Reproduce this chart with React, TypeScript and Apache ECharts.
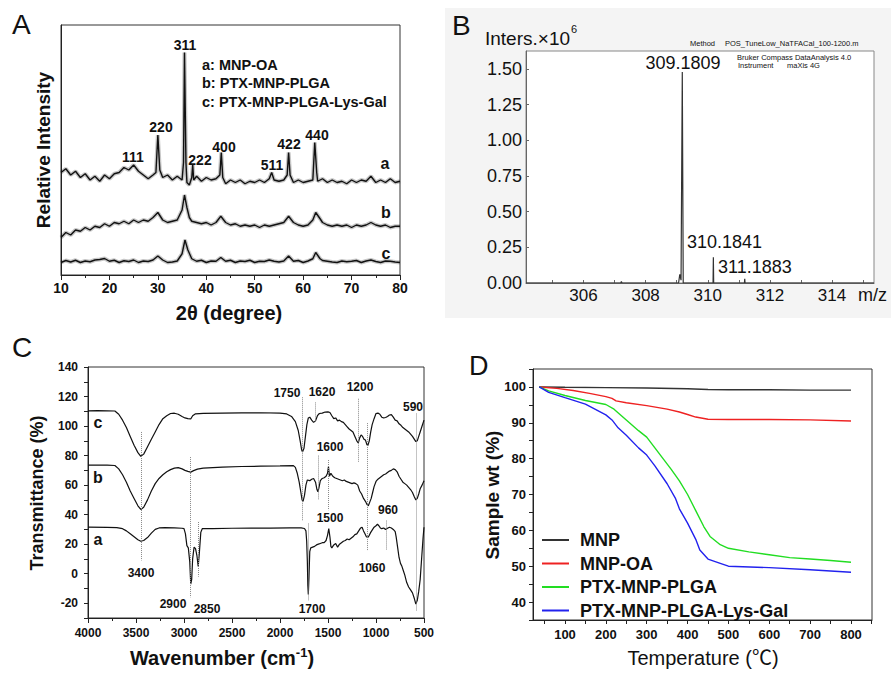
import React, { useEffect, useRef } from "react";
import * as echarts from "echarts";

const FONT = '"Liberation Sans", Arial, Helvetica, "Noto Sans CJK SC", sans-serif';

// ---------- Panel A : XRD ----------
const xrdA: number[][] = [
  [10, 41], [11, 42.5], [12, 40], [13, 41.5], [14, 39], [15, 40.5], [16, 38], [17, 39.5], [18, 37.5], [19, 40],
  [20, 38.5], [21, 40.5], [22, 41], [23, 43], [24, 42], [25, 44], [26, 41.5], [27, 40], [28, 38.5], [29, 40],
  [29.6, 41], [30, 56], [30.4, 42], [31, 39], [32, 40], [33, 38], [34, 39.5], [35, 38], [35.3, 45], [35.5, 89],
  [35.8, 45], [36, 37], [36.5, 36], [37, 39], [37.2, 44], [37.4, 38], [38, 39.5], [39, 37.5], [40, 39], [41, 38],
  [42, 38.5], [42.8, 40], [43.1, 49], [43.4, 39], [44, 36.5], [45, 38], [46, 37], [47, 38], [48, 36.5], [49, 37.5],
  [50, 37], [51, 38], [52, 37], [53, 38.5], [53.5, 41], [54, 38], [55, 37.5], [56, 38], [56.7, 40], [57, 49],
  [57.3, 40], [58, 37], [59, 38], [60, 37], [61, 37.5], [62, 38], [62.4, 53], [62.8, 41], [63, 37.5], [64, 38.5],
  [65, 37], [66, 38], [67, 37], [68, 37.5], [69, 36.5], [70, 38], [71, 37], [72, 38], [73, 37.5], [74, 39.5],
  [75, 37], [76, 38], [77, 37], [78, 38.5], [79, 37], [80, 37.5],
];
const xrdB: number[][] = [
  [10, 15], [11, 17], [12, 16], [13, 18], [14, 17.5], [15, 19], [16, 18], [17, 19.5], [18, 19], [19, 20.5],
  [20, 19.5], [21, 21], [22, 20.5], [23, 21.5], [24, 20.5], [25, 22], [26, 21], [27, 22], [28, 21.5], [29, 23],
  [30, 25], [31, 22], [32, 21], [33, 21.5], [34, 22], [35, 26], [35.5, 32], [36, 27], [36.5, 23], [37, 21.5],
  [38, 21], [39, 20.5], [40, 21], [41, 20], [42, 21], [43, 23.5], [44, 21], [45, 20], [46, 20.5], [47, 19.5],
  [48, 20], [49, 19.5], [50, 20], [51, 19], [52, 20], [53, 19.5], [54, 20], [55, 20.5], [56, 21], [57, 23.5],
  [58, 21], [59, 20], [60, 19.5], [61, 20], [62, 22], [62.6, 25], [63.5, 22.5], [64, 21], [65, 20], [66, 19.5],
  [67, 20], [68, 19.5], [69, 20], [70, 19], [71, 20], [72, 19.5], [73, 20], [74, 21], [75, 20], [76, 19.5],
  [77, 20], [78, 19], [79, 19.5], [80, 19.5],
];
const xrdC: number[][] = [
  [10, 5], [11, 5.8], [12, 5.2], [13, 5.9], [14, 5], [15, 5.6], [16, 5.3], [17, 6], [18, 6.2], [19, 6.6],
  [20, 5.5], [21, 5.9], [22, 5], [23, 5.7], [24, 5.4], [25, 6], [26, 5], [27, 5.6], [28, 5.4], [29, 6],
  [30, 7.6], [31, 6], [32, 5], [33, 5.2], [34, 5.6], [35, 8.5], [35.6, 14], [36.2, 10], [37, 6.5], [38, 5.5],
  [39, 5.9], [40, 5], [41, 5.6], [42, 5.5], [43, 7], [44, 5.5], [45, 5.9], [46, 5], [47, 5.6], [48, 5.4],
  [49, 5.9], [50, 5], [51, 5.5], [52, 5.4], [53, 6], [54, 5.5], [55, 5.2], [56, 5.6], [57, 7.6], [58, 5.5],
  [59, 5.8], [60, 5], [61, 5.6], [62, 6.5], [62.6, 9], [63.5, 6.5], [64, 5.8], [65, 5.5], [66, 5.2], [67, 5],
  [68, 5.6], [69, 5.3], [70, 5.5], [71, 5.8], [72, 5], [73, 5.6], [74, 6], [75, 5.4], [76, 5], [77, 5.6],
  [78, 5.5], [79, 5.2], [80, 5],
];
const xrdPeakLabels: [string, number, number][] = [
  ["311", 185, 45], ["220", 161, 127], ["111", 133, 157], ["222", 200, 160],
  ["400", 224, 147], ["511", 272, 165], ["422", 289, 144], ["440", 317, 135],
];
const xrdLegend = ["a: MNP-OA", "b: PTX-MNP-PLGA", "c: PTX-MNP-PLGA-Lys-Gal"];

// ---------- Panel B : MS ----------
const msSpectrum: number[][] = [
  [304.15, 0], [307.2, 0], [307.22, 0.01], [307.24, 0], [309.06, 0], [309.1, 0.06], [309.14, 0.02],
  [309.18, 1.478], [309.21, 0], [310.17, 0], [310.18, 0.18], [310.19, 0], [311.18, 0], [311.19, 0.03],
  [311.2, 0], [315.35, 0],
];
const msXLabels = [306, 308, 310, 312, 314];
const msXTicks = [305, 306, 307, 308, 309, 310, 311, 312, 313, 314, 315];
const msYLabels = [0, 0.25, 0.5, 0.75, 1.0, 1.25, 1.5];

// ---------- Panel C : FTIR ----------
const ftirC: number[][] = [
  [4000, 110.3], [3900, 110.4], [3800, 110.3], [3720, 110.2], [3680, 108], [3640, 104], [3600, 99], [3560, 93],
  [3520, 87], [3480, 82], [3450, 79.5], [3420, 81], [3380, 86], [3340, 91], [3300, 96], [3260, 101], [3220, 105],
  [3180, 107], [3140, 108.5], [3100, 108.7], [3060, 108], [3020, 106.5], [2990, 105.5], [2960, 105], [2930, 104.8],
  [2910, 107], [2880, 108.3], [2800, 108.6], [2600, 108.8], [2400, 108.9], [2200, 109], [2000, 108.8], [1930, 108.2],
  [1880, 106.5], [1840, 103], [1810, 97], [1790, 90], [1775, 84], [1765, 82.5], [1750, 85], [1735, 93], [1720, 101],
  [1705, 105.5], [1690, 106], [1670, 104], [1650, 102.5], [1630, 103.5], [1610, 107], [1590, 108.5], [1560, 108.8],
  [1530, 109.5], [1500, 109.6], [1480, 109.2], [1460, 107], [1440, 105], [1420, 105.5], [1400, 103.5], [1380, 104],
  [1360, 103], [1340, 102.5], [1320, 101], [1300, 99.5], [1280, 98], [1260, 97], [1240, 96], [1220, 93], [1200, 90],
  [1185, 88.5], [1170, 92], [1155, 94], [1140, 93], [1125, 91], [1110, 90.5], [1095, 87.5], [1085, 86.8], [1070, 90],
  [1055, 96], [1040, 101], [1020, 105], [1000, 108.5], [980, 108.8], [960, 108], [940, 106], [920, 105.5], [900, 105.8],
  [880, 106.5], [860, 107.5], [840, 107.8], [820, 106], [800, 104], [780, 103.5], [760, 101.5], [740, 100.5], [720, 99],
  [700, 98], [680, 97], [660, 96], [640, 94.5], [620, 93], [600, 91], [585, 89.5], [570, 90], [555, 93], [540, 96],
  [520, 100], [500, 104],
];
const ftirB: number[][] = [
  [4000, 73.6], [3900, 73.6], [3800, 73.5], [3720, 73.3], [3680, 71], [3640, 67], [3600, 62], [3560, 56], [3520, 51],
  [3480, 46], [3450, 43.5], [3420, 45], [3380, 50], [3340, 56], [3300, 61], [3260, 64.5], [3220, 67], [3180, 69],
  [3140, 70.5], [3100, 71.5], [3060, 71.8], [3020, 71], [2990, 70], [2960, 69.3], [2930, 68.8], [2900, 69.8],
  [2860, 70.8], [2800, 71.5], [2600, 72.2], [2400, 72.6], [2200, 72.8], [2000, 73], [1860, 73.2], [1840, 72],
  [1820, 68], [1800, 62], [1785, 56], [1770, 50], [1760, 49], [1745, 53], [1730, 60], [1715, 63.5], [1690, 63],
  [1670, 64], [1650, 64.5], [1630, 62], [1615, 57], [1605, 55.5], [1595, 58], [1580, 63], [1560, 64.5], [1540, 65],
  [1520, 66], [1505, 68], [1495, 72.5], [1485, 66], [1470, 68], [1450, 66], [1430, 65], [1410, 64.5], [1390, 64],
  [1370, 63.5], [1350, 63], [1330, 63.5], [1310, 62.5], [1290, 62], [1270, 61.5], [1250, 61], [1230, 61.5],
  [1210, 61], [1190, 60], [1170, 56], [1150, 54], [1130, 51], [1110, 49], [1095, 47], [1080, 46], [1065, 48.5],
  [1050, 51], [1035, 55], [1020, 59], [1000, 62.5], [980, 64], [960, 65], [940, 66], [920, 67], [900, 67.5],
  [880, 68.5], [860, 69.5], [840, 70], [820, 71], [800, 70.5], [780, 69], [760, 66], [740, 64], [720, 62], [700, 61],
  [680, 60], [660, 58.5], [640, 57], [620, 55], [600, 52], [585, 50], [570, 51], [555, 54], [540, 57.5], [520, 60],
  [500, 63],
];
const ftirA: number[][] = [
  [4000, 31.5], [3800, 31.4], [3700, 31.2], [3640, 30.5], [3600, 29], [3560, 27], [3520, 25], [3480, 23], [3450, 22],
  [3420, 22.5], [3380, 24.5], [3340, 27.5], [3300, 30], [3260, 31], [3200, 31.2], [3100, 31], [3020, 30.8], [3000, 30.5],
  [2985, 27], [2970, 19], [2955, 17.5], [2940, 8], [2930, -7], [2920, -4], [2910, 10], [2895, 18], [2880, 17],
  [2865, 12], [2852, 5], [2840, 14], [2825, 28], [2810, 30.5], [2700, 30.6], [2500, 30.8], [2300, 30.9], [2100, 30.9],
  [1900, 31], [1780, 31], [1745, 30.6], [1730, 29], [1722, 22], [1715, 8], [1710, -8], [1705, -14], [1698, -2],
  [1690, 15], [1680, 17.5], [1660, 18], [1640, 18.5], [1620, 19.5], [1600, 20], [1580, 20.5], [1560, 21], [1540, 21],
  [1520, 22.5], [1505, 26], [1492, 30.6], [1480, 25], [1470, 18.5], [1460, 17.5], [1440, 19.5], [1420, 20.5],
  [1400, 18], [1380, 20], [1360, 21], [1340, 22], [1320, 22.5], [1300, 23.5], [1280, 23], [1260, 24], [1240, 25],
  [1220, 26.5], [1200, 27], [1180, 29], [1160, 31], [1145, 31.5], [1130, 29], [1115, 27], [1100, 25], [1085, 24.5],
  [1070, 26], [1055, 28], [1040, 29.5], [1020, 31.5], [1000, 32.5], [985, 33.5], [970, 32.5], [955, 31], [940, 30.5],
  [920, 31], [900, 30], [880, 30.8], [860, 31.5], [840, 31], [820, 30], [800, 28.5], [790, 25], [775, 18], [760, 11],
  [745, 7], [730, 5], [715, 2], [700, -1], [680, -6], [660, -9], [640, -11], [620, -13], [600, -17], [585, -20.5],
  [570, -18], [555, -12], [540, -4], [525, 10], [510, 24], [500, 31.5],
];
// dotted guide lines: [wavenumber, yFrom, yTo]
const ftirGuides: number[][] = [
  [3450, 96, 9], [2930, 79, -16], [2850, 35, -2], [1770, 119.5, 36], [1707, 34, -18], [1636, 116, 102.5],
  [1603, 80, 50], [1495, 77, 43], [1187, 118.5, 75.5], [1088, 102, 16], [890, 36, 16], [577, 108.5, -25],
];
const ftirPeakLabels: [string, number, number][] = [
  ["3400", 141, 573], ["2900", 173, 604], ["2850", 207, 609], ["1700", 312, 609], ["1750", 287, 393],
  ["1620", 322, 392], ["1200", 360, 387], ["590", 413, 407], ["1600", 330, 447], ["1500", 330, 518],
  ["960", 388, 510], ["1060", 372, 568],
];

// ---------- Panel D : TGA ----------
const tgaNames = ["MNP", "MNP-OA", "PTX-MNP-PLGA", "PTX-MNP-PLGA-Lys-Gal"];
const tgaColors = ["#333333", "#ee2222", "#22dd22", "#2222ee"];
const tgaMNP: number[][] = [
  [37, 100], [100, 99.9], [200, 99.8], [300, 99.7], [400, 99.5], [450, 99.3], [500, 99.2], [600, 99.2], [700, 99.1], [800, 99.1],
];
const tgaOA: number[][] = [
  [37, 100], [80, 99.6], [120, 99], [160, 98.2], [200, 97.3], [215, 96.8], [225, 96.1], [250, 95.6], [300, 94.8],
  [350, 93.8], [380, 93], [400, 92.3], [420, 91.6], [450, 91], [500, 90.9], [600, 90.9], [700, 90.8], [800, 90.5],
];
const tgaPLGA: number[][] = [
  [37, 100], [60, 98.9], [100, 97.6], [150, 96.2], [200, 95.1], [220, 93.8], [250, 90.8], [280, 87.8], [300, 86],
  [320, 83], [340, 80], [360, 77], [380, 73.8], [400, 70], [420, 65.5], [440, 61], [455, 58.3], [480, 56], [500, 55],
  [550, 54], [600, 53.2], [650, 52.4], [700, 52], [750, 51.6], [800, 51.1],
];
const tgaGal: number[][] = [
  [37, 100], [60, 98.5], [100, 97], [150, 95.2], [200, 92.2], [215, 90.8], [230, 88.6], [250, 86.5], [280, 83],
  [300, 81], [320, 78], [350, 73], [370, 69], [380, 66], [400, 62], [420, 57.5], [430, 54.5], [450, 52], [480, 50.8],
  [500, 50], [600, 49.6], [700, 49], [800, 48.3],
];
const tgaXLabels = [100, 200, 300, 400, 500, 600, 700, 800];
const tgaXTicks = [50, 100, 150, 200, 250, 300, 350, 400, 450, 500, 550, 600, 650, 700, 750, 800, 850];

function T(text: string, x: number, y: number, size: number, weight: string = "bold", align: string = "center", extra: any = {}) {
  return {
    type: "text",
    x,
    y,
    silent: true,
    ...extra,
    style: { text, fontSize: size, fontWeight: weight, fontFamily: FONT, fill: "#111", align, verticalAlign: "middle", ...(extra.style || {}) },
  };
}

export default function App() {
  const ref = useRef<HTMLDivElement>(null);
  useEffect(() => {
    if (!ref.current) return;
    const chart = echarts.init(ref.current, undefined, { renderer: "svg" });
    const axisCol = "#222";
    const lab = (size: number, weight: string, margin: number, extra: any = {}) => ({
      fontSize: size, fontWeight: weight, fontFamily: FONT, color: "#111", margin, ...extra,
    });
    const frame = { show: true, borderColor: "#333", borderWidth: 1, backgroundColor: "transparent" };

    const graphic: any[] = [
      { type: "rect", z: -1, silent: true, shape: { x: 445, y: 8, width: 446, height: 310 }, style: { fill: "#f4f4f4" } },
      T("A", 12, 24, 28, "normal", "left"),
      T("B", 452, 25, 28, "normal", "left"),
      T("C", 12, 347, 28, "normal", "left"),
      T("D", 469, 366, 27, "normal", "left"),
      // A
      T("Relative Intensity", 43, 150, 19, "bold", "center", { rotation: Math.PI / 2 }),
      T("2θ (degree)", 229, 313, 20),
      ...xrdPeakLabels.map(([t, x, y]) => T(t, x, y, 14)),
      ...xrdLegend.map((t, i) => T(t, 202, [65, 83, 102][i], 14.5, "bold", "left")),
      T("a", 385, 163, 16), T("b", 386, 212, 16), T("c", 386, 253, 16),
      // B
      T("Inters.×10", 485, 38, 19, "normal", "left"),
      T("6", 571, 29, 11, "normal", "left"),
      T("Method", 690, 43, 7.5, "normal", "left"),
      T("POS_TuneLow_NaTFACal_100-1200.m", 725, 43, 7.5, "normal", "left"),
      T("Bruker Compass DataAnalysis 4.0", 737, 57, 7.5, "normal", "left"),
      T("Instrument", 738, 65, 7.5, "normal", "left"),
      T("maXis 4G", 787, 65, 7.5, "normal", "left"),
      T("309.1809", 683, 63, 18, "normal"),
      T("310.1841", 687, 242, 18, "normal", "left"),
      T("311.1883", 718, 267, 18, "normal", "left"),
      T("m/z", 858, 295, 18, "normal", "left"),
      // C
      T("Transmittance (%)", 37, 493, 18, "bold", "center", { rotation: Math.PI / 2 }),
      {
        type: "text", x: 222, y: 658, silent: true,
        style: {
          text: "{n|Wavenumber (cm}{s|-1}{n|)}", align: "center", verticalAlign: "middle", fill: "#111",
          rich: {
            n: { fontSize: 20, fontWeight: "bold", fontFamily: FONT, fill: "#111", lineHeight: 24 },
            s: { fontSize: 13, fontWeight: "bold", fontFamily: FONT, fill: "#111", verticalAlign: "top", lineHeight: 14 },
          },
        },
      },
      T("c", 98, 422, 16), T("b", 98, 477, 16), T("a", 98, 539, 16),
      ...ftirPeakLabels.map(([t, x, y]) => T(t, x, y, 12)),
      // D
      T("Sample wt (%)", 492, 495, 19, "bold", "center", { rotation: Math.PI / 2 }),
      T("Temperature (℃)", 703, 658, 20, "normal"),
    ];

    const option: any = {
      animation: false,
      backgroundColor: "#ffffff",
      textStyle: { fontFamily: FONT },
      grid: [
        { left: 61, top: 25, width: 339, height: 250, ...frame },
        { left: 526, top: 51, width: 348, height: 232, show: true, borderColor: "#888", borderWidth: 1, backgroundColor: "#ffffff" },
        { left: 88, top: 367, width: 336, height: 251, ...frame },
        { left: 533, top: 369, width: 339, height: 251, ...frame },
      ],
      xAxis: [
        {
          gridIndex: 0, type: "value", min: 10, max: 80, interval: 10,
          axisLine: { onZero: false, lineStyle: { color: axisCol } },
          axisTick: { length: 5, lineStyle: { color: axisCol } },
          minorTick: { show: true, splitNumber: 2, length: 3, lineStyle: { color: axisCol } },
          axisLabel: lab(14, "bold", 6), splitLine: { show: false },
        },
        {
          gridIndex: 1, type: "value", min: 304.15, max: 315.35,
          axisLine: { onZero: false, lineStyle: { color: "#666" } },
          axisTick: { inside: true, length: 3, customValues: msXTicks, lineStyle: { color: "#666" } },
          axisLabel: lab(17, "normal", 4, { customValues: msXLabels, formatter: (v: number) => (msXLabels.includes(v) ? String(v) : "") }),
          splitLine: { show: false },
        },
        {
          gridIndex: 2, type: "value", min: 500, max: 4000, interval: 500, inverse: true,
          axisLine: { onZero: false, lineStyle: { color: axisCol } },
          axisTick: { length: 5, lineStyle: { color: axisCol } },
          minorTick: { show: true, splitNumber: 2, length: 3, lineStyle: { color: axisCol } },
          axisLabel: lab(12, "bold", 9, { formatter: (v: number) => String(v) }), splitLine: { show: false },
        },
        {
          gridIndex: 3, type: "value", min: 21.7, max: 851.4,
          axisLine: { onZero: false, lineStyle: { color: axisCol } },
          axisTick: { length: 4, customValues: tgaXTicks, lineStyle: { color: axisCol } },
          axisLabel: lab(13, "bold", 8, { customValues: tgaXLabels, formatter: (v: number) => (tgaXLabels.includes(v) ? String(v) : "") }),
          splitLine: { show: false },
        },
      ],
      yAxis: [
        {
          gridIndex: 0, type: "value", min: 0, max: 100,
          axisLine: { show: true, onZero: false, lineStyle: { color: axisCol } },
          axisTick: { show: false }, axisLabel: { show: false }, splitLine: { show: false },
        },
        {
          gridIndex: 1, type: "value", min: 0, max: 1.625, interval: 0.25,
          axisLine: { show: true, onZero: false, lineStyle: { color: "#666" } },
          axisTick: { show: true, inside: true, length: 3, customValues: msYLabels, lineStyle: { color: "#666" } },
          axisLabel: lab(18, "normal", 4, { customValues: msYLabels, formatter: (v: number) => (v <= 1.5 ? v.toFixed(2) : "") }),
          splitLine: { show: false },
        },
        {
          gridIndex: 2, type: "value", min: -30, max: 140, interval: 10,
          axisLine: { show: true, onZero: false, lineStyle: { color: axisCol } },
          axisTick: { show: true, length: 4, lineStyle: { color: axisCol } },
          axisLabel: lab(12, "bold", 10, { formatter: (v: number) => (v % 20 === 0 ? String(v) : "") }),
          splitLine: { show: false },
        },
        {
          gridIndex: 3, type: "value", min: 35, max: 105, interval: 5,
          axisLine: { show: true, onZero: false, lineStyle: { color: axisCol } },
          axisTick: { show: true, length: 4, lineStyle: { color: axisCol } },
          axisLabel: lab(13, "bold", 7, { formatter: (v: number) => (v % 10 === 0 ? String(v) : "") }),
          splitLine: { show: false },
        },
      ],
      legend: {
        data: tgaNames,
        orient: "vertical",
        left: 537,
        top: 526,
        itemWidth: 27,
        itemHeight: 2,
        itemGap: 5.5,
        icon: "rect",
        selectedMode: false,
        textStyle: { fontSize: 18, fontWeight: "bold", fontFamily: FONT, color: "#111", lineHeight: 18, padding: [0, 0, 0, 6] },
      },
      series: [
        ...[xrdA, xrdB, xrdC].map((d) => ({
          type: "line", xAxisIndex: 0, yAxisIndex: 0, data: d, symbol: "none", silent: true,
          lineStyle: { color: "rgba(0,0,0,0.22)", width: 4 },
        })),
        ...[xrdA, xrdB, xrdC].map((d) => ({
          type: "line", xAxisIndex: 0, yAxisIndex: 0, data: d, symbol: "none", silent: true,
          lineStyle: { color: "#111", width: 1.4 },
        })),
        {
          type: "line", xAxisIndex: 1, yAxisIndex: 1, data: msSpectrum, symbol: "none", silent: true,
          lineStyle: { color: "#333", width: 1.2 },
        },
        ...[ftirC, ftirB, ftirA].map((d, i) => ({
          type: "line", xAxisIndex: 2, yAxisIndex: 2, data: d, symbol: "none", silent: true,
          lineStyle: { color: "#111", width: 1.2 },
          markLine: i === 2 ? {
            silent: true, symbol: "none", label: { show: false },
            lineStyle: { type: "dotted", color: "#888", width: 1 },
            data: ftirGuides.map(([w, y1, y2]) => [{ coord: [w, y1] }, { coord: [w, y2] }]),
          } : undefined,
        })),
        ...[tgaMNP, tgaOA, tgaPLGA, tgaGal].map((d, i) => ({
          name: tgaNames[i], type: "line", xAxisIndex: 3, yAxisIndex: 3, data: d, symbol: "none", silent: true,
          color: tgaColors[i], lineStyle: { color: tgaColors[i], width: 1.4 },
        })),
      ],
      graphic,
    };
    chart.setOption(option);
    return () => chart.dispose();
  }, []);
  return <div ref={ref} style={{ position: "fixed", left: 0, top: 0, width: 891, height: 674 }} />;
}
